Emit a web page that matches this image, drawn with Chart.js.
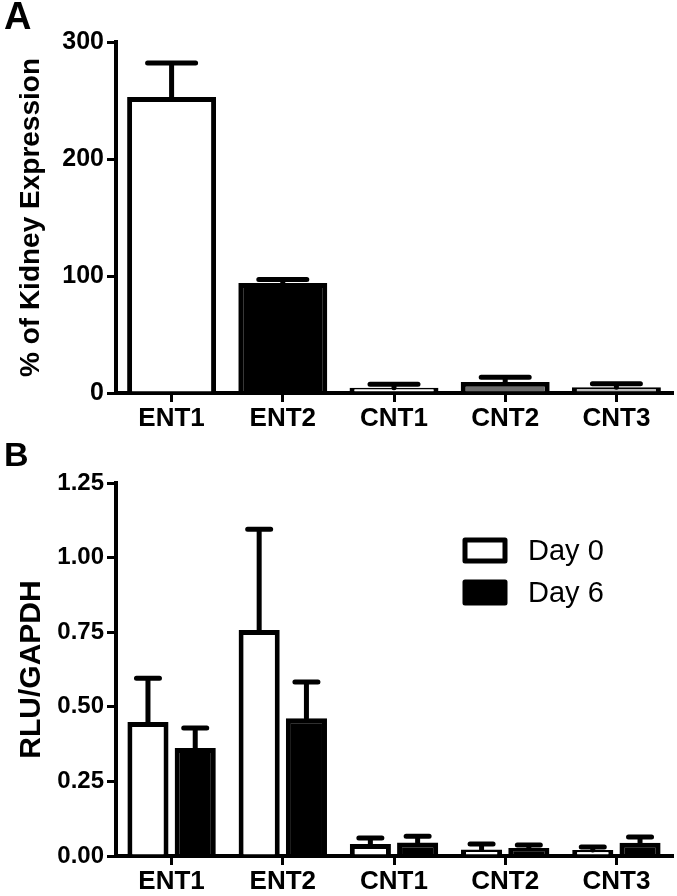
<!DOCTYPE html>
<html>
<head>
<meta charset="utf-8">
<script src="https://cdn.jsdelivr.net/npm/chart.js@4.4.1/dist/chart.umd.min.js"></script>
<style>
  body { margin: 0; background: #fff; width: 677px; height: 896px; position: relative; overflow: hidden; }
  .panel { position: absolute; left: 0; width: 677px; }
  #wrapA { top: 0; height: 430px; }
  #wrapB { top: 430px; height: 466px; }
  .letter { position: absolute; font: bold 38px "Liberation Sans", Arial, sans-serif; color: #000; }
</style>
</head>
<body>
<div class="panel" id="wrapA"><canvas id="chart-a"></canvas></div>
<div class="panel" id="wrapB"><canvas id="chart-b"></canvas></div>
<div class="letter" style="left:4px;top:-5px;">A</div>
<div class="letter" style="left:4px;top:435px;font-size:34px;">B</div>
<script>
const categories = ['ENT1', 'ENT2', 'CNT1', 'CNT2', 'CNT3'];

// panel A: % of kidney expression
const kidneyMean = [253, 94, 4.5, 9.5, 5];
const kidneyUpper = [282, 97, 7.5, 13.5, 8];
const kidneyColors = ['#ffffff', '#000000', '#ffffff', '#6b6b6b', '#bdbdbd'];

// panel B: RLU/GAPDH
const day0Mean = [0.449, 0.757, 0.04, 0.022, 0.02];
const day0Upper = [0.596, 1.095, 0.06, 0.04, 0.03];
const day6Mean = [0.362, 0.462, 0.045, 0.027, 0.044];
const day6Upper = [0.429, 0.583, 0.066, 0.037, 0.064];

const font = '"Liberation Sans", Arial, sans-serif';

const errorBars = {
    id: 'errorBars',
    afterDatasetsDraw(chart, args, opts) {
        const ctx = chart.ctx;
        const y = chart.scales.y;
        chart.data.datasets.forEach((ds, i) => {
            const meta = chart.getDatasetMeta(i);
            meta.data.forEach((bar, j) => {
                const top = y.getPixelForValue(ds.upper[j]);
                ctx.save();
                ctx.strokeStyle = '#000';
                ctx.lineWidth = opts.width;
                ctx.lineCap = 'round';
                ctx.beginPath();
                ctx.moveTo(bar.x, bar.y);
                ctx.lineTo(bar.x, top);
                ctx.moveTo(bar.x - opts.cap / 2, top);
                ctx.lineTo(bar.x + opts.cap / 2, top);
                ctx.stroke();
                ctx.restore();
            });
        });
    },
};

const boxLegend = {
    id: 'boxLegend',
    afterDraw(chart) {
        const ctx = chart.ctx;
        const area = chart.chartArea;
        chart.data.datasets.forEach((ds, i) => {
            const x = 465;
            const y = area.top + 57 + i * 42;
            ctx.save();
            ctx.fillStyle = ds.backgroundColor;
            ctx.strokeStyle = '#000';
            ctx.lineWidth = 5;
            ctx.lineJoin = 'round';
            ctx.fillRect(x, y, 40, 21);
            ctx.strokeRect(x, y, 40, 21);
            ctx.fillStyle = '#000';
            ctx.font = '29px ' + font;
            ctx.textBaseline = 'middle';
            ctx.fillText(ds.label, x + 63, y + 12);
            ctx.restore();
        });
    },
};

const axisX = {
    offset: true,
    grid: { display: true, offset: false, drawOnChartArea: false, drawTicks: true, tickLength: 9, color: '#000', lineWidth: 3 },
    border: { display: true, color: '#000', width: 4 },
    ticks: { color: '#000', font: { family: font, size: 26, weight: 'bold' }, padding: 1 },
};

const yGrid = { display: true, drawOnChartArea: false, drawTicks: true, tickLength: 9, color: '#000', lineWidth: 3 };

new Chart(document.getElementById('chart-a'), {
    type: 'bar',
    data: {
        labels: categories,
        datasets: [{
            data: kidneyMean,
            upper: kidneyUpper,
            backgroundColor: kidneyColors,
            borderColor: '#000',
            borderWidth: 5,
            categoryPercentage: 0.8,
            barPercentage: 1,
        }],
    },
    options: {
        responsive: true,
        maintainAspectRatio: false,
        animation: false,
        layout: { padding: { top: 42, right: 5, left: 0, bottom: 0 } },
        scales: {
            x: { ...axisX, afterFit: (s) => { s.height = 37; } },
            y: {
                min: 0, max: 300,
                ticks: { stepSize: 100, color: '#000', font: { family: font, size: 25, weight: 'bold' }, padding: 3 },
                grid: yGrid,
                border: { display: true, color: '#000', width: 4 },
                title: { display: true, text: '% of Kidney Expression', color: '#000', font: { family: font, size: 28, weight: 'bold' }, padding: { bottom: 0, top: 14 } },
                afterFit: (s) => { s.width = 116; },
            },
        },
        plugins: {
            legend: { display: false },
            tooltip: { enabled: false },
            errorBars: { width: 5, cap: 48 },
        },
    },
    plugins: [errorBars],
});

new Chart(document.getElementById('chart-b'), {
    type: 'bar',
    data: {
        labels: categories,
        datasets: [
            {
                label: 'Day 0',
                data: day0Mean,
                upper: day0Upper,
                backgroundColor: '#ffffff',
                borderColor: '#000',
                borderWidth: 5,
                categoryPercentage: 0.85,
                barPercentage: 0.87,
            },
            {
                label: 'Day 6',
                data: day6Mean,
                upper: day6Upper,
                backgroundColor: '#000000',
                borderColor: '#000',
                borderWidth: 5,
                categoryPercentage: 0.85,
                barPercentage: 0.87,
            },
        ],
    },
    options: {
        responsive: true,
        maintainAspectRatio: false,
        animation: false,
        layout: { padding: { top: 53, right: 5, left: 0, bottom: 0 } },
        scales: {
            x: { ...axisX, afterFit: (s) => { s.height = 40; } },
            y: {
                min: 0, max: 1.25,
                ticks: {
                    stepSize: 0.25, color: '#000', padding: 3,
                    font: { family: font, size: 24, weight: 'bold' },
                    callback: (v) => v.toFixed(2),
                },
                grid: yGrid,
                border: { display: true, color: '#000', width: 4 },
                title: { display: true, text: 'RLU/GAPDH', color: '#000', font: { family: font, size: 30, weight: 'bold' }, padding: { bottom: 0, top: 14 } },
                afterFit: (s) => { s.width = 116; },
            },
        },
        plugins: {
            legend: { display: false },
            tooltip: { enabled: false },
            errorBars: { width: 5, cap: 23 },
        },
    },
    plugins: [errorBars, boxLegend],
});
</script>
</body>
</html>
